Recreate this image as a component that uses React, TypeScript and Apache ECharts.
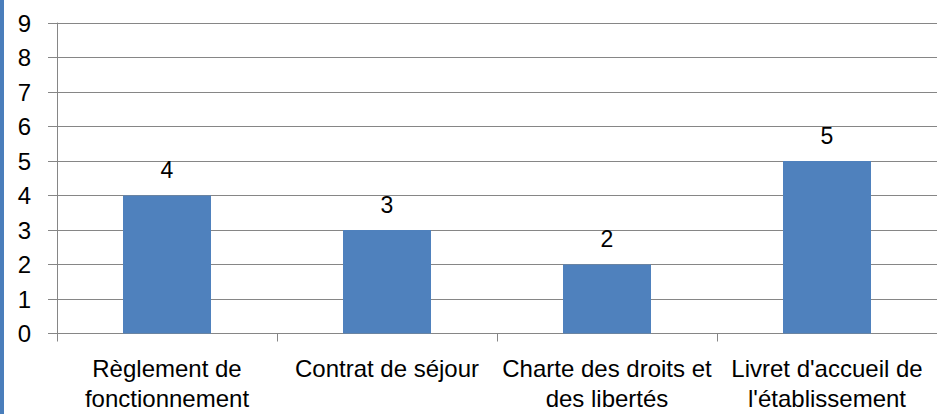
import React, { useEffect, useRef } from "react";
import * as echarts from "echarts";

const categories = [
  "Règlement de\nfonctionnement",
  "Contrat de séjour",
  "Charte des droits et\ndes libertés",
  "Livret d'accueil de\nl'établissement",
];
const values = [4, 3, 2, 5];
const yMin = 0;
const yMax = 9;
const yInterval = 1;

export default function App() {
  const ref = useRef<HTMLDivElement>(null);
  useEffect(() => {
    document.body.style.margin = "0";
    const chart = echarts.init(ref.current!, null, { renderer: "svg" });
    const font = "'Liberation Sans', Arial, sans-serif";
    chart.setOption({
      animation: false,
      backgroundColor: "#ffffff",
      graphic: [
        {
          type: "rect",
          left: 0,
          top: 0,
          shape: { width: 4, height: 414 },
          style: { fill: "#4a7ebb" },
        },
      ],
      grid: { left: 57, top: 23, width: 888, bottom: 80.5, containLabel: false },
      xAxis: {
        type: "category",
        data: categories,
        axisLine: { show: true, lineStyle: { color: "#868686", width: 1 } },
        axisTick: { show: true, length: 8, lineStyle: { color: "#868686" }, alignWithLabel: false },
        axisLabel: {
          interval: 0,
          margin: 20,
          fontFamily: font,
          fontSize: 24,
          lineHeight: 30,
          color: "#000000",
        },
      },
      yAxis: {
        type: "value",
        min: yMin,
        max: yMax,
        interval: yInterval,
        axisLine: { show: true, lineStyle: { color: "#868686", width: 1 } },
        axisTick: { show: true, length: 9, lineStyle: { color: "#868686" } },
        splitLine: { show: true, lineStyle: { color: "#868686", width: 1 } },
        axisLabel: {
          margin: 26,
          fontFamily: font,
          fontSize: 24,
          color: "#000000",
        },
      },
      series: [
        {
          type: "bar",
          data: values,
          barWidth: 88,
          itemStyle: { color: "#4f81bd" },
          label: {
            show: true,
            position: "top",
            distance: 14,
            fontFamily: font,
            fontSize: 23,
            color: "#000000",
          },
        },
      ],
    });
    return () => chart.dispose();
  }, []);
  return (
    <div
      ref={ref}
      style={{ position: "absolute", left: 0, top: 0, width: 937, height: 414 }}
    />
  );
}
